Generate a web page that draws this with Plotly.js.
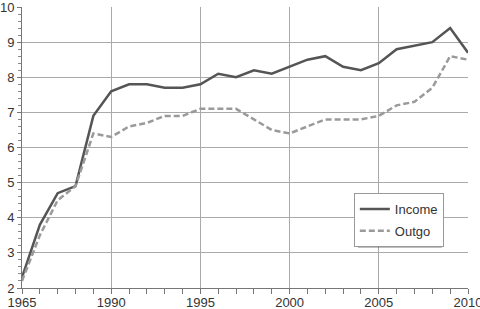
<!DOCTYPE html>
<html><head><meta charset="utf-8">
<script src="https://cdn.plot.ly/plotly-3.0.1.min.js"></script>
<style>html,body{margin:0;padding:0;background:#fff}#c{width:480px;height:309px}</style>
</head><body><div id="c"></div>
<script>
const years = [1985,1986,1987,1988,1989,1990,1991,1992,1993,1994,1995,1996,1997,1998,1999,2000,2001,2002,2003,2004,2005,2006,2007,2008,2009,2010];
const income = [2.3,3.8,4.7,4.9,6.9,7.6,7.8,7.8,7.7,7.7,7.8,8.1,8.0,8.2,8.1,8.3,8.5,8.6,8.3,8.2,8.4,8.8,8.9,9.0,9.4,8.7];
const outgo = [2.2,3.5,4.5,4.9,6.4,6.3,6.6,6.7,6.9,6.9,7.1,7.1,7.1,6.8,6.5,6.4,6.6,6.8,6.8,6.8,6.9,7.2,7.3,7.7,8.6,8.5];
const xTickVals = [1985,1990,1995,2000,2005,2010];
const xTickText = ["1965","1990","1995","2000","2005","2010"];
const yTickVals = [2,3,4,5,6,7,8,9,10];

const font = "Liberation Sans Narrow, Arial Narrow, sans-serif";
const traces = [
  {x: years, y: income, name: "Income", mode: "lines", legendgroup: "a",
   line: {color: "#555555", width: 2.5}},
  {x: years, y: outgo, name: "Outgo", mode: "lines", legendgroup: "b",
   line: {color: "#9a9a9a", width: 2.5, dash: "6px,3px"}}
];
const layout = {
  width: 480, height: 309,
  margin: {l: 22, r: 12, t: 7, b: 21},
  paper_bgcolor: "#fff", plot_bgcolor: "#fff",
  font: {family: font, size: 13, color: "#333"},
  showlegend: true,
  legend: {x: 0.744, y: 0.338, xanchor: "left", yanchor: "top",
    bgcolor: "#fff", bordercolor: "#999", borderwidth: 1,
    font: {family: font, size: 13, color: "#333"}, tracegroupgap: 2},
  xaxis: {range: [1985, 2010], tickvals: xTickVals, ticktext: xTickText,
    showgrid: true, gridcolor: "#aaaaaa", gridwidth: 1,
    showline: true, linecolor: "#777", linewidth: 1,
    ticks: "outside", ticklen: 5, tickcolor: "#777",
    ticklabeloverflow: "allow", ticklabelstandoff: -3,
    minor: {dtick: 1, ticks: "outside", ticklen: 5, tickcolor: "#777", showgrid: false},
    zeroline: false, fixedrange: true},
  yaxis: {range: [2, 10], tickvals: yTickVals,
    showgrid: true, gridcolor: "#aaaaaa", gridwidth: 1,
    showline: true, linecolor: "#777", linewidth: 1,
    ticks: "outside", ticklen: 4, tickcolor: "#777",
    ticklabeloverflow: "allow",
    minor: {dtick: 0.2, ticks: "outside", ticklen: 3, tickcolor: "#888", showgrid: false},
    zeroline: false, fixedrange: true},
  shapes: [
    {type: "rect", xref: "paper", yref: "paper", layer: "above",
     x0: 0.744 + 4/446, x1: 0.744 + 88/446, y0: 0.338 - 55/281, y1: 0.338 - 4/281,
     fillcolor: "rgba(0,0,0,0.25)", line: {width: 0}}
  ]
};
Plotly.newPlot("c", traces, layout, {displayModeBar: false, staticPlot: true});
</script></body></html>
